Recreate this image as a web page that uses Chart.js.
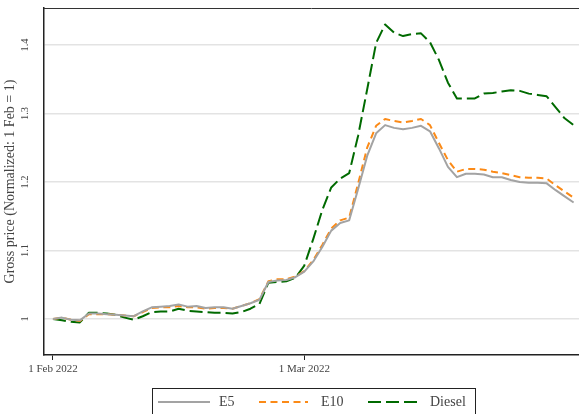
<!DOCTYPE html>
<html>
<head>
<meta charset="utf-8">
<script src="https://cdn.jsdelivr.net/npm/chart.js@4.4.0/dist/chart.umd.min.js"></script>
<style>
  html, body { margin: 0; padding: 0; background: #fff; }
  #wrap { width: 579px; height: 414px; position: relative; }
</style>
</head>
<body>
<div id="wrap"><canvas id="c"></canvas></div>
<script>
// days after 1 Feb 2022
const days = [0,1,2,3,4,5,6,7,8,9,10,11,12,13,14,15,16,17,18,19,20,21,22,23,24,25,26,27,28,29,
              30,31,32,33,34,35,36,37,38,39,40,41,42,43,44,45,46,47,48,49,50,51,52,53,54,55,56,57,58];

const e5 = [1.000,1.002,0.999,0.998,1.008,1.008,1.007,1.006,1.005,1.004,
            1.011,1.017,1.018,1.019,1.021,1.018,1.019,1.016,1.017,1.017,
            1.015,1.019,1.023,1.028,1.054,1.056,1.057,1.061,1.069,1.084,
            1.105,1.129,1.140,1.144,1.190,1.238,1.271,1.283,1.279,1.277,
            1.279,1.282,1.274,1.249,1.222,1.207,1.212,1.212,1.211,1.207,
            1.207,1.203,1.200,1.199,1.199,1.198,1.188,1.179,1.170];

const e10 = [1.000,1.002,0.999,0.997,1.007,1.007,1.007,1.006,1.005,1.004,
             1.010,1.016,1.017,1.017,1.019,1.017,1.017,1.015,1.016,1.016,
             1.015,1.019,1.023,1.029,1.055,1.058,1.058,1.062,1.070,1.086,
             1.108,1.132,1.144,1.148,1.198,1.250,1.282,1.292,1.289,1.287,
             1.289,1.292,1.283,1.257,1.232,1.215,1.219,1.219,1.218,1.215,
             1.213,1.210,1.207,1.206,1.206,1.205,1.195,1.186,1.177];

const diesel = [1.000,0.998,0.996,0.995,1.009,1.009,1.008,1.006,1.002,0.999,
                1.004,1.010,1.011,1.011,1.015,1.012,1.011,1.010,1.009,1.009,
                1.008,1.010,1.015,1.022,1.053,1.054,1.055,1.060,1.078,1.117,
                1.159,1.192,1.205,1.213,1.268,1.335,1.403,1.430,1.418,1.413,
                1.416,1.417,1.404,1.378,1.345,1.322,1.322,1.322,1.329,1.330,
                1.332,1.334,1.333,1.329,1.327,1.325,1.309,1.293,1.283];

const seriesNames = ['E5', 'E10', 'Diesel'];
const xTickDays = [0, 28];
const xTickLabels = ['1 Feb 2022', '1 Mar 2022'];
const yTickValues = [1, 1.1, 1.2, 1.3, 1.4];
const yTickLabels = ['1', '1.1', '1.2', '1.3', '1.4'];

const SERIF = '"Liberation Serif", "DejaVu Serif", serif';
const TXT = '#444';

const toPts = arr => arr.map((v, i) => ({ x: days[i], y: v }));

// legend placement (box + sample line / text x positions)
const LEG = { box: [152.5, 388.5, 323, 40], y: 402, lineX: [158, 259, 368], lineW: [52, 49, 52], textX: [219, 321, 430] };

const frame = {
  id: 'frame',
  afterDraw(chart) {
    const ctx = chart.ctx, a = chart.chartArea, ys = chart.scales.y;
    ctx.save();
    // top border
    ctx.strokeStyle = '#333'; ctx.lineWidth = 1;
    ctx.beginPath(); ctx.moveTo(a.left, a.top + 0.5); ctx.lineTo(a.right, a.top + 0.5); ctx.stroke();

    // rotated y tick labels
    ctx.fillStyle = TXT; ctx.font = '10.5px ' + SERIF;
    ctx.textAlign = 'center'; ctx.textBaseline = 'middle';
    yTickValues.forEach((v, i) => {
      ctx.save();
      ctx.translate(25, ys.getPixelForValue(v));
      ctx.rotate(-Math.PI / 2);
      ctx.fillText(yTickLabels[i], 0, 0);
      ctx.restore();
    });

    // legend
    ctx.strokeStyle = '#222'; ctx.lineWidth = 1; ctx.setLineDash([]);
    ctx.strokeRect(LEG.box[0], LEG.box[1], LEG.box[2], LEG.box[3]);
    ctx.font = '14px ' + SERIF; ctx.textAlign = 'left';
    chart.data.datasets.forEach((ds, i) => {
      ctx.strokeStyle = ds.borderColor; ctx.lineWidth = ds.borderWidth;
      ctx.setLineDash(ds.borderDash || []);
      ctx.beginPath(); ctx.moveTo(LEG.lineX[i], LEG.y); ctx.lineTo(LEG.lineX[i] + LEG.lineW[i], LEG.y); ctx.stroke();
      ctx.setLineDash([]);
      ctx.fillStyle = TXT;
      ctx.fillText(ds.label, LEG.textX[i], LEG.y);
    });
    ctx.restore();
  }
};

new Chart(document.getElementById('c'), {
  type: 'line',
  data: {
    datasets: [
      { label: seriesNames[0], data: toPts(e5), borderColor: '#a3a3a3', borderWidth: 2 },
      { label: seriesNames[1], data: toPts(e10), borderColor: '#fb8a17', borderWidth: 2, borderDash: [7, 4.5] },
      { label: seriesNames[2], data: toPts(diesel), borderColor: '#006a00', borderWidth: 2, borderDash: [13, 5] }
    ]
  },
  options: {
    responsive: true, maintainAspectRatio: false, animation: false, devicePixelRatio: 1,
    layout: { padding: { top: 8, right: 0, bottom: 0, left: 0 } },
    elements: { point: { radius: 0 }, line: { tension: 0, borderJoinStyle: 'round', fill: false } },
    plugins: { legend: { display: false }, tooltip: { enabled: false } },
    scales: {
      x: {
        type: 'linear', min: -1, max: 58.6,
        afterBuildTicks: s => { s.ticks = xTickDays.map(v => ({ value: v })); },
        ticks: {
          callback: v => xTickLabels[xTickDays.indexOf(v)],
          font: { family: SERIF, size: 11 }, color: TXT, padding: 3, maxRotation: 0, autoSkip: false
        },
        grid: { display: true, drawOnChartArea: false, drawTicks: true, tickLength: 5, color: '#222', lineWidth: 1 },
        border: { display: true, color: '#222', width: 1.5 },
        afterFit: s => { s.height = 59; }
      },
      y: {
        min: 0.9474, max: 1.454,
        afterBuildTicks: s => { s.ticks = yTickValues.map(v => ({ value: v })); },
        ticks: { display: false },
        grid: { color: '#e3e3e3', lineWidth: 1.5, drawTicks: false },
        border: { display: true, color: '#222', width: 1.5 },
        title: { display: true, text: 'Gross price (Normalized: 1 Feb = 1)', color: TXT, padding: 0,
                 font: { family: SERIF, size: 14, lineHeight: 1.45 } },
        afterFit: s => { s.width = 44; }
      }
    }
  },
  plugins: [frame]
});
</script>
</body>
</html>
